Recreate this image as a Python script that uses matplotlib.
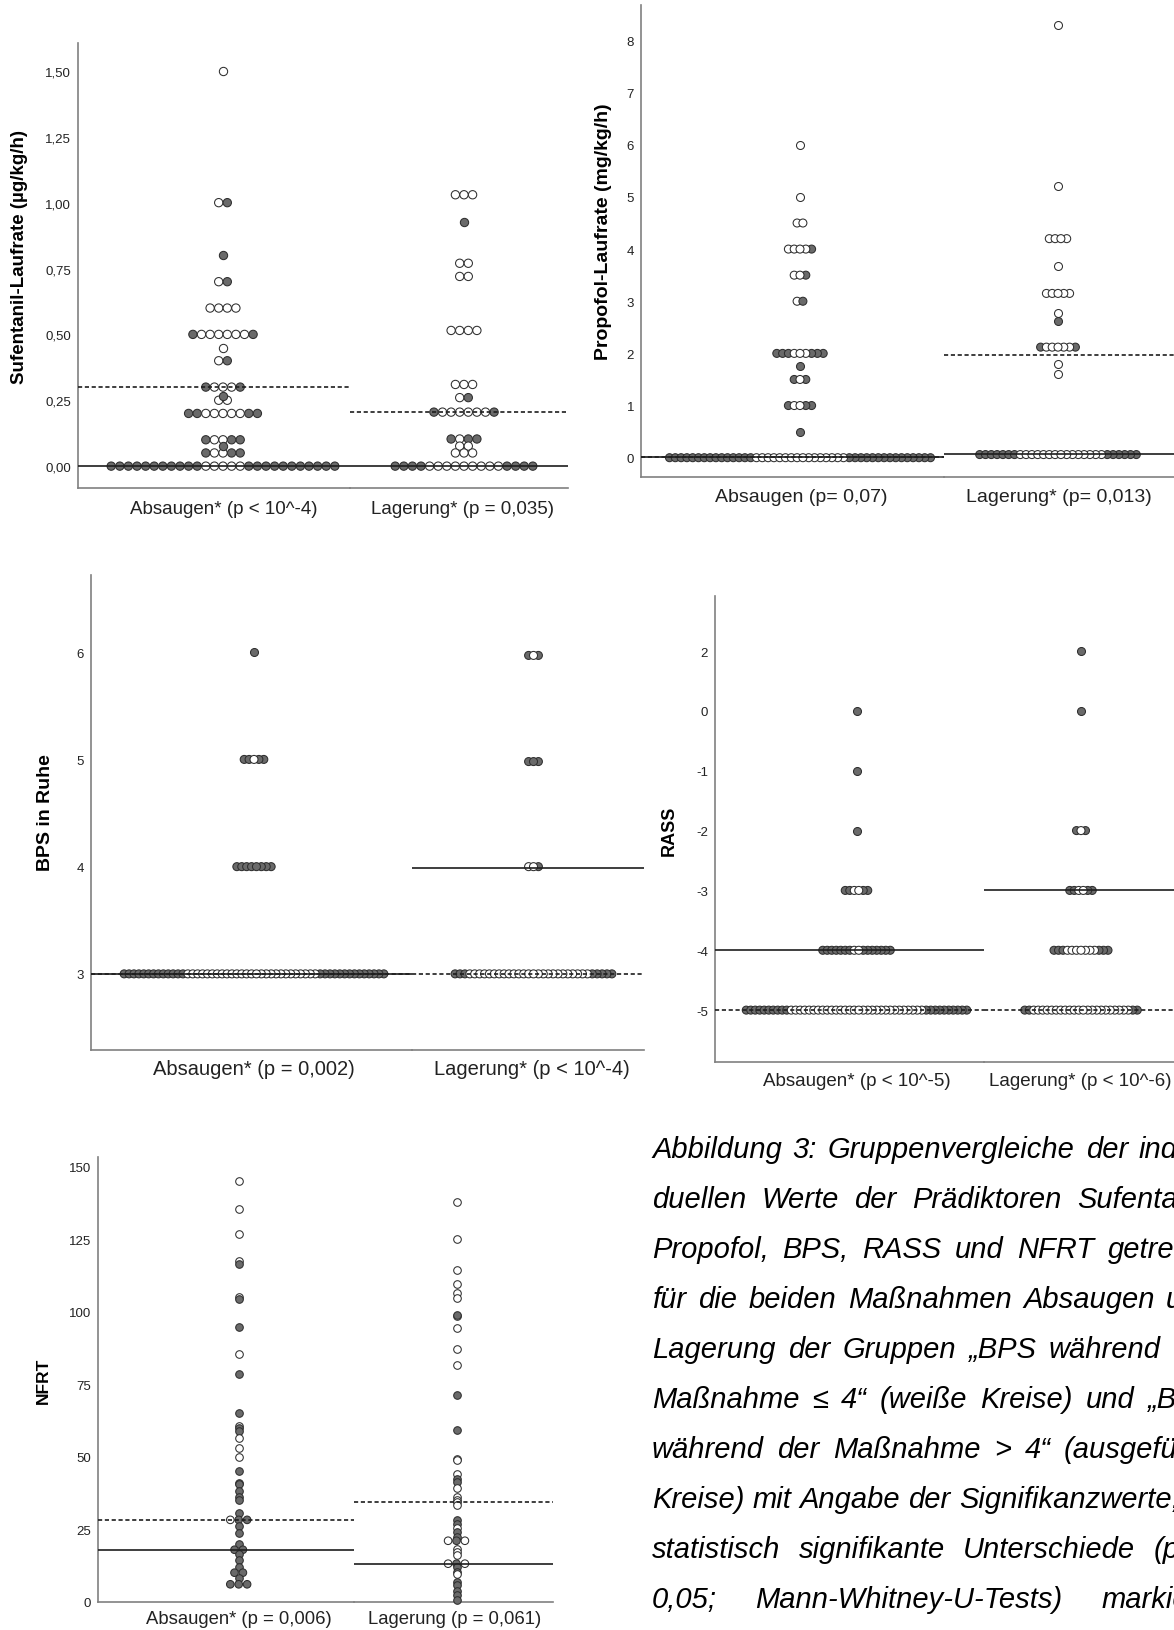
import numpy as np
import matplotlib
matplotlib.use('Agg')
import matplotlib.pyplot as plt

W, H = 1174, 1631
plt.rcParams['font.family'] = ['Liberation Sans', 'DejaVu Sans']

# Rows of the dot plots: (value, colours from left to right)
# o = "BPS waehrend der Massnahme <= 4" (white), f = "> 4" (grey)
sufent_abs = [(1.50, 'o'), (1.00, 'of'), (0.80, 'f'), (0.70, 'of'), (0.60, 'oooo'),
              (0.50, 'foooooof'), (0.45, 'o'), (0.40, 'of'), (0.30, 'fooof'),
              (0.25, 'oo'), (0.265, 'f'), (0.20, 'ffoooooff'), (0.10, 'fooff'),
              (0.05, 'fooff'), (0.076, 'f'), (0.00, 'f' * 11 + 'o' * 5 + 'f' * 11)]
sufent_lag = [(1.03, 'ooo'), (0.925, 'f'), (0.77, 'oo'), (0.72, 'oo'), (0.515, 'oooo'),
              (0.31, 'ooo'), (0.26, 'of'), (0.205, 'foooooof'), (0.103, 'foff'),
              (0.076, 'oo'), (0.05, 'ooo'), (0.00, 'ffff' + 'o' * 9 + 'ffff')]

propo_abs = [(6.0, 'o'), (5.0, 'o'), (4.5, 'oo'), (4.0, 'oooof'), (3.5, 'oof'),
             (3.0, 'of'), (2.0, 'fffooofff'), (1.75, 'f'), (1.5, 'fof'), (1.0, 'fooff'),
             (0.5, 'f'), (0.0, 'f' * 15 + 'o' * 16 + 'f' * 15)]
propo_lag = [(8.3, 'o'), (5.2, 'o'), (4.2, 'oooo'), (3.67, 'o'), (3.15, 'ooooo'),
             (2.78, 'o'), (2.63, 'f'), (2.12, 'fooooof'), (1.8, 'o'), (1.6, 'o'),
             (0.06, 'f' * 7 + 'o' * 15 + 'f' * 6)]

bps_abs = [(6, 'f'), (5, 'ffoff'), (4, 'f' * 8), (3, 'f' * 13 + 'o' * 27 + 'f' * 14)]
bps_lag = [(5.97, 'fof'), (4.98, 'fff'), (4, 'oof'), (3, 'fff' + 'o' * 25 + 'fffff')]

# RASS is drawn on an ordinal axis: only the levels that occur, equally spaced
rass_levels = [-5, -4, -3, -2, -1, 0, 2]
rass_abs = [(0, 'f'), (-1, 'f'), (-2, 'f'), (-3, 'ffooff'), (-4, 'f' * 7 + 'oo' + 'f' * 7),
            (-5, 'f' * 10 + 'o' * 30 + 'f' * 10)]
rass_lag = [(2, 'f'), (0, 'f'), (-2, 'fof'), (-3, 'ffooff'), (-4, 'fff' + 'o' * 7 + 'fff'),
            (-5, 'ff' + 'o' * 22 + 'ff')]

nfrt_abs = [(145.2, 'o'), (135.3, 'o'), (126.7, 'o'), (117.5, 'o'), (116.4, 'f'),
            (105.0, 'o'), (104.3, 'f'), (94.9, 'f'), (85.5, 'o'), (78.7, 'f'), (65.2, 'f'),
            (60.8, 'o'), (59.8, 'f'), (58.9, 'f'), (56.5, 'o'), (53.1, 'o'), (50.0, 'o'),
            (45.3, 'f'), (41.1, 'f'), (40.5, 'f'), (38.2, 'f'), (36.0, 'f'), (35.2, 'f'),
            (30.8, 'f'), (28.3, 'off'), (26.2, 'f'), (23.8, 'f'), (20.1, 'f'), (18.0, 'ff'),
            (16.5, 'f'), (14.3, 'f'), (12.1, 'f'), (10.1, 'ff'), (8.3, 'f'), (6.1, 'fff')]
nfrt_lag = [(137.9, 'o'), (124.9, 'o'), (114.4, 'o'), (109.6, 'o'), (106.5, 'o'),
            (104.8, 'o'), (98.4, 'o'), (98.7, 'f'), (94.3, 'o'), (87.2, 'o'), (81.5, 'o'),
            (71.3, 'f'), (59.2, 'f'), (49.4, 'o'), (49.0, 'o'), (44.2, 'o'), (42.5, 'f'),
            (41.5, 'f'), (39.4, 'o'), (36.2, 'o'), (35.3, 'o'), (34.4, 'o'), (33.3, 'o'),
            (28.1, 'f'), (27.0, 'f'), (25.5, 'o'), (24.1, 'f'), (22.4, 'f'), (21.1, 'ofo'),
            (18.4, 'o'), (17.2, 'o'), (16.1, 'o'), (13.2, 'ofo'), (12.1, 'f'), (10.3, 'f'),
            (9.5, 'o'), (6.9, 'f'), (6.0, 'f'), (3.7, 'f'), (2.3, 'f'), (0.6, 'f')]

# reference lines per group: (solid, dashed)
sufent_lines = [(0.0, 0.302), (0.0, 0.206)]
propo_lines = [(0.02, 0.02), (0.065, 1.975)]
bps_lines = [(3.0, 3.0), (3.99, 3.0)]
rass_lines = [(-4, -5), (-3, -5)]
nfrt_lines = [(18.0, 28.3), (13.0, 34.4)]

sufent_labels = ['Absaugen* (p < 10^-4)', 'Lagerung* (p = 0,035)']
propo_labels = ['Absaugen (p= 0,07)', 'Lagerung* (p= 0,013)']
bps_labels = ['Absaugen* (p = 0,002)', 'Lagerung* (p < 10^-4)']
rass_labels = ['Absaugen* (p < 10^-5)', 'Lagerung* (p < 10^-6)']
nfrt_labels = ['Absaugen* (p = 0,006)', 'Lagerung (p = 0,061)']

caption = ['Abbildung 3: Gruppenvergleiche der indivi-',
           'duellen Werte der Prädiktoren Sufentanil,',
           'Propofol, BPS, RASS und NFRT getrennt',
           'für die beiden Maßnahmen Absaugen und',
           'Lagerung der Gruppen „BPS während der',
           'Maßnahme ≤ 4“ (weiße Kreise) und „BPS',
           'während der Maßnahme > 4“ (ausgefüllte',
           'Kreise) mit Angabe der Signifikanzwerte;',
           'statistisch signifikante Unterschiede (p <',
           '0,05; Mann-Whitney-U-Tests) markiert.']
caption_justified = [True, True, True, True, True, True, True, False, True, True]

FILL = '#6a6a6a'
EDGE = '#2e2e2e'
AXC = '#808080'

fig = plt.figure(figsize=(W / 100, H / 100), dpi=100)


def px_axes(x0, x1, y0, y1):
    return fig.add_axes([x0 / W, 1 - y1 / H, (x1 - x0) / W, (y1 - y0) / H])


def draw_dots(ax, rows, cx, step, diam):
    s = (diam * 0.72) ** 2
    for val, pat in rows:
        n = len(pat)
        offs = (np.arange(n) - (n - 1) / 2) * step
        order = np.argsort(-np.abs(offs), kind='stable')
        cols = [FILL if pat[i] == 'f' else 'white' for i in order]
        ax.scatter(cx + offs[order], np.full(n, val), s=s, c=cols, edgecolors=EDGE,
                   linewidths=0.75, clip_on=False, zorder=3)


def panel(xs, y0, y1, ylim, ticks, ticklabels, groups, centers, lines, labels,
          label_y, label_x, ylabel, ylab_pos, step, diam, lab_fs, ylab_fs):
    for k in range(2):
        ax = px_axes(xs[k], xs[k + 1], y0, y1)
        ax.set_xlim(xs[k], xs[k + 1])
        ax.set_ylim(*ylim)
        ax.patch.set_alpha(0)
        for sp in ['top', 'right']:
            ax.spines[sp].set_visible(False)
        ax.spines['bottom'].set_color(AXC)
        ax.spines['bottom'].set_linewidth(1.2)
        ax.set_xticks([])
        if k == 0:
            ax.spines['left'].set_color(AXC)
            ax.spines['left'].set_linewidth(1.2)
            ax.set_yticks(ticks)
            ax.set_yticklabels(ticklabels)
            ax.tick_params(axis='y', length=0, pad=5, labelsize=9.5, labelcolor='#222222')
        else:
            ax.spines['left'].set_visible(False)
            ax.set_yticks([])
        solid, dashed = lines[k]
        ax.axhline(solid, color='#1e1e1e', lw=1.2, zorder=4)
        ax.axhline(dashed, color='#1e1e1e', lw=1.2, ls=(0, (2.5, 1.6)), zorder=4)
        draw_dots(ax, groups[k], centers[k], step, diam)
        fig.text(label_x[k] / W, 1 - label_y / H, labels[k], ha='center', va='center',
                 fontsize=lab_fs, color='#222222')
    fig.text(ylab_pos[0] / W, 1 - ylab_pos[1] / H, ylabel, rotation=90, ha='center',
             va='center', fontsize=ylab_fs, fontweight='bold')


panel([78, 350, 568], 44, 489, (-0.083, 1.606), [0, 0.25, 0.5, 0.75, 1.0, 1.25, 1.5],
      ['0,00', '0,25', '0,50', '0,75', '1,00', '1,25', '1,50'],
      [sufent_abs, sufent_lag], [223, 464], sufent_lines, sufent_labels, 510, [224, 463],
      'Sufentanil-Laufrate (µg/kg/h)', (20, 257), 8.6, 8.3, 13.5, 13.5)

panel([641, 944, 1210], 6, 478, (-0.37, 8.68), list(range(9)), [str(i) for i in range(9)],
      [propo_abs, propo_lag], [800, 1058], propo_lines, propo_labels, 498, [801, 1059],
      'Propofol-Laufrate (mg/kg/h)', (603, 232), 5.8, 8.0, 14, 14)

panel([91, 412, 644], 576, 1051, (2.29, 6.72), [3, 4, 5, 6], ['3', '4', '5', '6'],
      [bps_abs, bps_lag], [254, 533.5], bps_lines, bps_labels, 1070, [254, 532],
      'BPS in Ruhe', (46, 813), 4.9, 8.0, 14.5, 14)


def rass_pos(rows):
    return [(rass_levels.index(v), p) for v, p in rows]


panel([715, 984, 1210], 597, 1063, (-0.867, 6.92), list(range(len(rass_levels))),
      [str(v) for v in rass_levels],
      [rass_pos(rass_abs), rass_pos(rass_lag)], [856.5, 1081],
      [tuple(rass_levels.index(v) for v in ln) for ln in rass_lines], rass_labels,
      1082, [857, 1080], 'RASS', (669, 831), 4.5, 8.0, 13.5, 13)

panel([98, 354, 553], 1158, 1603, (0, 153.3), [0, 25, 50, 75, 100, 125, 150],
      ['0', '25', '50', '75', '100', '125', '150'],
      [nfrt_abs, nfrt_lag], [238.7, 456.5], nfrt_lines, nfrt_labels, 1620, [239, 455],
      'NFRT', (43, 1381), 8.4, 7.6, 13.3, 12.5)

# caption, justified between x = 652 and x = 1215 (runs past the right edge)
renderer = fig.canvas.get_renderer()
L, R = 652, 1215
for i, line in enumerate(caption):
    yb = 1158 + 50 * i
    words = line.split(' ')
    texts = [fig.text(0, 1 - yb / H, w, fontsize=21, style='italic', va='baseline',
                      ha='left') for w in words]
    widths = [t.get_window_extent(renderer).width for t in texts]
    space = fig.text(0, 0, 'a a', fontsize=21, style='italic')
    nat = space.get_window_extent(renderer).width
    space.remove()
    if caption_justified[i]:
        gap = (R - L - sum(widths)) / max(len(words) - 1, 1)
    else:
        a = fig.text(0, 0, 'aa', fontsize=21, style='italic')
        gap = nat - a.get_window_extent(renderer).width
        a.remove()
    x = L
    for t, w in zip(texts, widths):
        t.set_x(x / W)
        x += w + gap

fig.savefig('out.png', dpi=100)
